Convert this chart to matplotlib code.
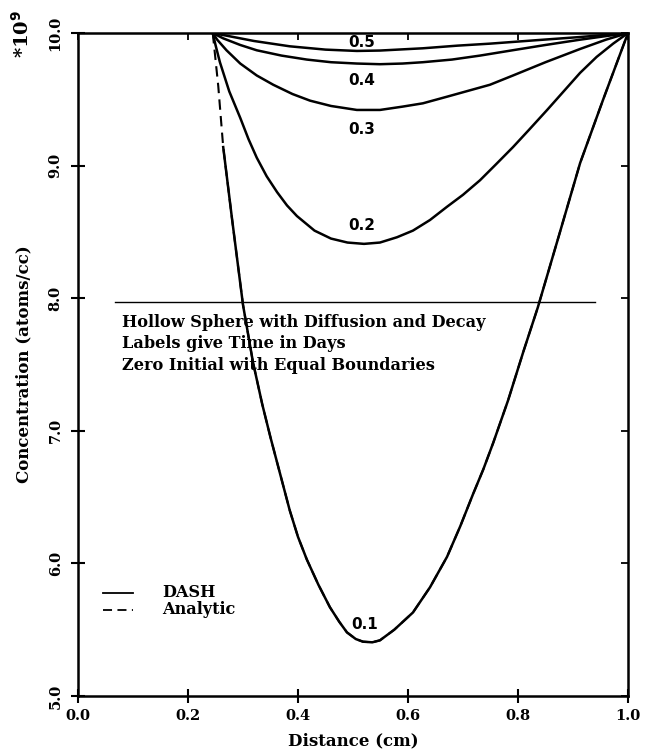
import numpy as np
import matplotlib
matplotlib.use("Agg")
import matplotlib.pyplot as plt

# values (x in cm, y in units of 1e9 atoms/cc)
x_01 = [0.245, 0.255, 0.264, 0.28, 0.30, 0.318, 0.335, 0.35, 0.364, 0.385,
        0.40, 0.416, 0.437, 0.458, 0.475, 0.489, 0.505, 0.518, 0.535, 0.549,
        0.575, 0.609, 0.64, 0.671, 0.695, 0.718, 0.737, 0.755, 0.782, 0.81,
        0.836, 0.875, 0.913, 0.955, 1.0]
y_01 = [10.0, 9.6, 9.14, 8.6, 7.95, 7.52, 7.2, 6.95, 6.73, 6.4,
        6.2, 6.03, 5.84, 5.67, 5.56, 5.48, 5.43, 5.41, 5.405, 5.42,
        5.5, 5.63, 5.82, 6.05, 6.28, 6.52, 6.71, 6.91, 7.23, 7.6,
        7.93, 8.48, 9.02, 9.5, 10.0]

x_02 = [0.245, 0.25, 0.258, 0.275, 0.295, 0.31, 0.325, 0.343, 0.362, 0.38,
        0.398, 0.43, 0.46, 0.49, 0.52, 0.549, 0.58, 0.609, 0.64, 0.671,
        0.70, 0.731, 0.76, 0.791, 0.82, 0.853, 0.883, 0.913, 0.943, 0.973, 1.0]
y_02 = [10.0, 9.91, 9.78, 9.56, 9.36, 9.2, 9.06, 8.92, 8.8, 8.7,
        8.62, 8.51, 8.45, 8.42, 8.41, 8.42, 8.46, 8.51, 8.59, 8.69,
        8.78, 8.89, 9.01, 9.14, 9.27, 9.42, 9.56, 9.70, 9.82, 9.92, 10.0]

x_03 = [0.245, 0.253, 0.27, 0.295, 0.325, 0.355, 0.39, 0.422, 0.46, 0.507,
        0.549, 0.59, 0.627, 0.671, 0.71, 0.749, 0.791, 0.85, 0.913, 0.96, 1.0]
y_03 = [10.0, 9.95, 9.87, 9.77, 9.68, 9.61, 9.54, 9.49, 9.45, 9.42,
        9.42, 9.445, 9.47, 9.52, 9.565, 9.61, 9.68, 9.78, 9.88, 9.95, 10.0]

x_04 = [0.245, 0.264, 0.295, 0.325, 0.37, 0.416, 0.46, 0.507, 0.549, 0.59,
        0.627, 0.68, 0.731, 0.79, 0.85, 0.913, 1.0]
y_04 = [10.0, 9.96, 9.91, 9.87, 9.83, 9.80, 9.78, 9.77, 9.765, 9.77,
        9.78, 9.80, 9.83, 9.87, 9.91, 9.95, 10.0]

x_05 = [0.245, 0.264, 0.32, 0.385, 0.45, 0.507, 0.549, 0.627, 0.69, 0.749,
        0.83, 0.913, 1.0]
y_05 = [10.0, 9.985, 9.94, 9.90, 9.875, 9.865, 9.868, 9.885, 9.905, 9.92,
        9.945, 9.97, 10.0]

curves = [(x_01, y_01), (x_02, y_02), (x_03, y_03), (x_04, y_04), (x_05, y_05)]
times = ["0.1", "0.2", "0.3", "0.4", "0.5"]
label_x = [0.522, 0.516, 0.516, 0.516, 0.516]
label_y = [5.54, 8.545, 9.27, 9.645, 9.93]

xticks = [0.0, 0.2, 0.4, 0.6, 0.8, 1.0]
yticks = [5.0, 6.0, 7.0, 8.0, 9.0, 10.0]

title_lines = ["Hollow Sphere with Diffusion and Decay",
               "Labels give Time in Days",
               "Zero Initial with Equal Boundaries"]

plt.rcParams["font.family"] = ["DejaVu Serif"]
plt.rcParams["font.weight"] = "bold"

fig = plt.figure(figsize=(6.48, 7.51), dpi=100)
ax = fig.add_axes([0.1204, 0.0732, 0.8487, 0.8828])

# DASH solution (solid); the 0.1 curve starts one node in
ax.plot(x_01[2:], y_01[2:], color="black", lw=1.8)
for xs, ys in curves[1:]:
    ax.plot(xs, ys, color="black", lw=1.8)
# analytic solution (dashed)
ax.plot(x_01, y_01, color="black", lw=1.5, ls=(0, (5, 3)))

for t, lx, ly in zip(times, label_x, label_y):
    ax.text(lx, ly, t, ha="center", va="center", fontsize=11, fontweight="bold",
            family="DejaVu Sans")

# annotation block
ax.plot([0.067, 0.94], [7.97, 7.97], color="black", lw=1.0)
for i, line in enumerate(title_lines):
    ax.text(0.08, 7.82 - 0.165 * i, line, ha="left", va="center",
            fontsize=11.6, fontweight="bold")

# legend drawn by hand
ax.plot([0.045, 0.1], [5.78, 5.78], color="black", lw=1.3)
ax.plot([0.045, 0.1], [5.65, 5.65], color="black", lw=1.3, ls=(0, (5, 3)))
ax.text(0.153, 5.78, "DASH", ha="left", va="center", fontsize=11.6, fontweight="bold")
ax.text(0.153, 5.65, "Analytic", ha="left", va="center", fontsize=11.6, fontweight="bold")

ax.set_xlim(0.0, 1.0)
ax.set_ylim(5.0, 10.0)
ax.set_xticks(xticks)
ax.set_yticks(yticks)
ax.set_xticklabels([f"{v:.1f}" for v in xticks], fontsize=10.5, fontweight="bold")
ax.set_yticklabels([f"{v:.1f}" for v in yticks], fontsize=10.5, fontweight="bold",
                   rotation=90, va="center")
ax.tick_params(axis="x", length=0, pad=9)
ax.tick_params(axis="y", length=0, pad=11)
for s in ax.spines.values():
    s.set_linewidth(1.8)

# tick marks: crossing on bottom/left, inward on top/right
xt = ax.get_xaxis_transform()
yt = ax.get_yaxis_transform()
ax.vlines(xticks, -0.01, 0.01, transform=xt, color="black", lw=1.5, clip_on=False)
ax.vlines(xticks, 0.99, 1.0, transform=xt, color="black", lw=1.3, clip_on=False)
ax.hlines(yticks, -0.012, 0.012, transform=yt, color="black", lw=1.5, clip_on=False)
ax.hlines(yticks, 0.988, 1.0, transform=yt, color="black", lw=1.3, clip_on=False)

ax.set_xlabel("Distance (cm)", fontsize=12, fontweight="bold", labelpad=7)
ax.set_ylabel("Concentration (atoms/cc)", fontsize=12, fontweight="bold", labelpad=12)

fig.text(0.034, 0.955, "*10$^{9}$", rotation=90, ha="center", va="center",
         fontsize=14, fontweight="bold")

fig.savefig("out.png", dpi=100)
